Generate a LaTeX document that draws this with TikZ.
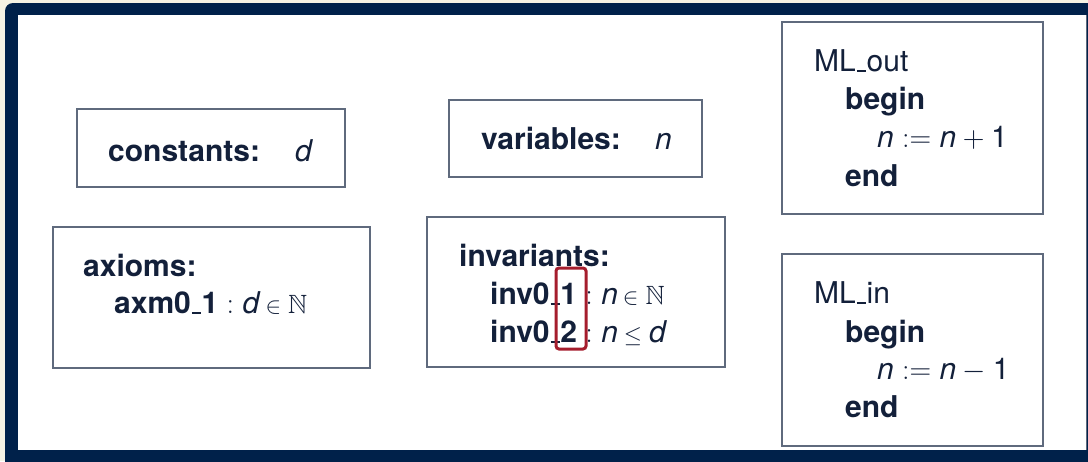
\RequirePackage{fix-cm}
\documentclass[tikz,border=0pt]{standalone}
\usepackage{amssymb}
\usepackage{graphicx}
\usepackage{fontspec}
\setmainfont{TeX Gyre Heros}
\definecolor{ink}{HTML}{13203A}
\definecolor{framec}{HTML}{00214A}
\definecolor{boxc}{HTML}{5F6A7D}
\definecolor{cream}{HTML}{F6F3E4}
\definecolor{redc}{HTML}{A51D2D}
\newcommand\mlus{\kern0.03em\rule[-0.03em]{0.3em}{0.06em}\kern0.03em}
\newcommand\elt{\hspace{5pt}\scalebox{0.78}{$\in$}\hspace{7pt}}
\newcommand\natset{\scalebox{0.88}{$\mathbb{N}$}}
\newcommand\leqs{\hspace{6pt}\scalebox{0.78}{$\le$}\hspace{7pt}}
\tikzset{
  box/.style={draw=boxc, line width=1.3pt, fill=white, inner sep=0pt},
  txt/.style={anchor=base west, inner sep=0pt, text=ink, font=\fontsize{30}{36}\selectfont},
  hilite/.style={draw=redc, line width=3pt, rounded corners=3pt}
}
\begin{document}
\begin{tikzpicture}[x=1pt,y=-1pt]
\useasboundingbox (0,0) rectangle (1088,461);
\fill[cream] (0,0) rectangle (1088,461);
\fill[framec, rounded corners=8pt] (5,3) rectangle (1130,490);
\fill[white] (18,15) rectangle (1086,450);
\draw[boxc, line width=1pt] (1086.5,15) -- (1086.5,450);

% boxes
\node[box, minimum width=268pt, minimum height=78pt] (cst) at (211,148) {};
\node[box, minimum width=253pt, minimum height=77pt] (var) at (575.5,138.5) {};
\node[box, minimum width=317pt, minimum height=141pt] (axm) at (211.5,297.5) {};
\node[box, minimum width=298pt, minimum height=150pt] (inv) at (576,292) {};
\node[box, minimum width=261pt, minimum height=192pt] (out) at (912.5,118) {};
\node[box, minimum width=261pt, minimum height=192pt] (in) at (912.5,350) {};

% constants
\node[txt] (cstL) at (108,161) {\textbf{constants:}};
\node[txt] (cstD) at (295,161) {\textit{d}};
% variables
\node[txt] (varL) at (481,149) {\textbf{variables:}};
\node[txt] (varN) at (655,149) {\textit{n}};
% axioms
\node[txt] (axmL) at (83,276) {\textbf{axioms:}};
\node[txt] (axm1) at (114,313) {\textbf{axm0\mlus1}${}:{}$\textit{d}\elt\natset};
% invariants
\node[txt] (invL) at (459,266) {\textbf{invariants:}};
\node[txt] (inv1) at (490,304) {\textbf{inv0\mlus1}${}:{}$\textit{n}\elt\natset};
\node[txt] (inv2) at (490,342) {\textbf{inv0\mlus2}${}:{}$\textit{n}\leqs\textit{d}};
\draw[hilite] (556,268) rectangle (586,349);
% ML_out
\node[txt] (outN) at (814,71) {ML\mlus out};
\node[txt] (outB) at (845,109) {\textbf{begin}};
\node[txt] (outA) at (877,147) {\textit{n}${}:={}$\textit{n}${}+{}$1};
\node[txt] (outE) at (845,186) {\textbf{end}};
% ML_in
\node[txt] (inN) at (814,303) {ML\mlus in};
\node[txt] (inB) at (845,342) {\textbf{begin}};
\node[txt] (inA) at (877,379) {\textit{n}${}:={}$\textit{n}${}-{}$1};
\node[txt] (inE) at (845,417) {\textbf{end}};
\end{tikzpicture}
\end{document}
